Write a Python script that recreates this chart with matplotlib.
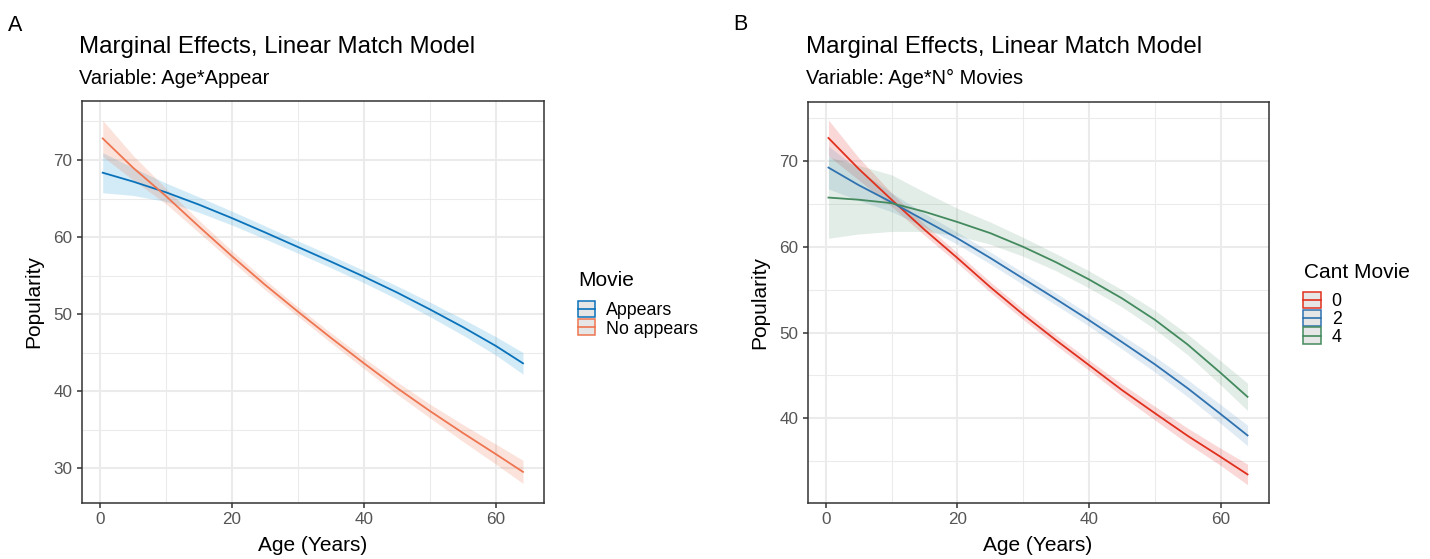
import matplotlib
matplotlib.use("Agg")
import matplotlib.pyplot as plt
from matplotlib.patches import Rectangle
from matplotlib.lines import Line2D
import numpy as np

plt.rcParams['font.family'] = ['Liberation Sans', 'DejaVu Sans']

W, H = 1430, 559

# ---------------- data ----------------
age = [0.4, 5, 10, 15, 20, 25, 30, 35, 40, 45, 50, 55, 60, 64.1]

# Panel A: Movie (Appears / No appears)
a_labels = ["Appears", "No appears"]
a_appears = [68.35, 67.2, 65.8, 64.2, 62.45, 60.6, 58.7, 56.8, 54.85, 52.8, 50.6, 48.3, 45.85, 43.6]
a_appears_ci = [2.6, 1.8, 1.2, 1.0, 0.9, 0.85, 0.8, 0.8, 0.8, 0.85, 0.95, 1.05, 1.2, 1.4]
a_noappears = [72.8, 69.0, 65.3, 61.35, 57.5, 53.8, 50.3, 46.9, 43.6, 40.4, 37.4, 34.55, 31.8, 29.5]
a_noappears_ci = [2.35, 1.6, 1.0, 0.8, 0.7, 0.65, 0.6, 0.65, 0.7, 0.8, 0.9, 1.1, 1.3, 1.5]

# Panel B: Cant Movie (0 / 2 / 4)
b_labels = ["0", "2", "4"]
b_m0 = [72.7, 69.1, 65.5, 62.0, 58.7, 55.3, 52.1, 49.1, 46.2, 43.3, 40.6, 37.95, 35.5, 33.45]
b_m0_ci = [2.1, 1.3, 0.8, 0.65, 0.6, 0.6, 0.6, 0.6, 0.6, 0.7, 0.8, 0.9, 1.0, 1.2]
b_m2 = [69.25, 67.2, 65.2, 63.1, 61.0, 58.7, 56.3, 53.9, 51.45, 48.9, 46.3, 43.5, 40.5, 38.0]
b_m2_ci = [2.5, 1.8, 1.1, 0.8, 0.7, 0.7, 0.7, 0.7, 0.7, 0.8, 0.9, 1.0, 1.1, 1.2]
b_m4 = [65.75, 65.5, 65.1, 64.1, 62.9, 61.6, 60.0, 58.2, 56.2, 54.0, 51.5, 48.6, 45.3, 42.5]
b_m4_ci = [4.75, 4.0, 3.3, 2.3, 1.6, 1.3, 1.1, 1.0, 1.0, 1.0, 1.1, 1.2, 1.4, 1.6]

x_ticks = [0, 20, 40, 60]
a_yticks = [30, 40, 50, 60, 70]
b_yticks = [40, 50, 60, 70]

title = "Marginal Effects, Linear Match Model"
a_sub = "Variable: Age*Appear"
b_sub = "Variable: Age*N° Movies"

# ---------------- styling ----------------
fig = plt.figure(figsize=(W / 100, H / 100), dpi=100)

def fx(x):
    return x / W

def fy(y):
    return 1 - y / H

BORDER = '#333333'
GRID = '#EBEBEB'
TICKLAB = '#555555'


def make_axes(left, right, top, bottom):
    return fig.add_axes([fx(left), fy(bottom), fx(right) - fx(left), (bottom - top) / H])


def style(ax, ylim, yticks):
    xr = max(age) - min(age)
    ax.set_xticks(x_ticks)
    ax.set_yticks(yticks)
    ax.set_xticks([10, 30, 50], minor=True)
    ax.set_yticks([t + 5 for t in [yticks[0] - 10] + list(yticks)], minor=True)
    ax.set_xlim(min(age) - 0.05 * xr, max(age) + 0.05 * xr)
    ax.set_ylim(*ylim)
    ax.grid(True, which='major', color=GRID, lw=1.5, zorder=0)
    ax.grid(True, which='minor', color=GRID, lw=0.75, zorder=0)
    ax.set_axisbelow(True)
    for s in ax.spines.values():
        s.set_color(BORDER)
        s.set_linewidth(1.1)
    ax.tick_params(which='major', length=3.6, width=1.1, color=BORDER,
                   labelcolor=TICKLAB, labelsize=12.3, pad=3)
    ax.tick_params(which='minor', length=0)
    ax.set_xlabel("Age (Years)", fontsize=15, labelpad=6.5, color='black')
    ax.set_ylabel("Popularity", fontsize=15, labelpad=7, color='black')


def draw_series(ax, ys, cis, line_cols, fill_cols, alphas):
    for y, c, fc, al in zip(ys, cis, fill_cols, alphas):
        y = np.asarray(y)
        c = np.asarray(c)
        ax.fill_between(age, y - c, y + c, color=fc, alpha=al, lw=0, zorder=2)
    for y, lc in zip(ys, line_cols):
        ax.plot(age, y, color=lc, lw=1.3, zorder=3)


def draw_legend(title_txt, title_x, title_base, labels, colors, key_x, key_tops, key_h, label_x):
    fig.text(fx(title_x), fy(title_base), title_txt, fontsize=15, va='baseline', ha='left')
    kw = 17.3
    for lab, col, top in zip(labels, colors, key_tops):
        r = Rectangle((fx(key_x), fy(top + key_h)), kw / W, key_h / H,
                      transform=fig.transFigure, facecolor='#E6E6E6',
                      edgecolor=col, lw=1.1, alpha=1.0)
        fig.add_artist(r)
        cy = top + key_h / 2
        fig.add_artist(Line2D([fx(key_x), fx(key_x + kw)], [fy(cy), fy(cy)],
                              transform=fig.transFigure, color=col, lw=1.2))
        fig.text(fx(label_x), fy(cy), lab, fontsize=12.8, va='center_baseline', ha='left')


# ---------------- Panel A ----------------
axA = make_axes(81.7, 544, 100.7, 502.7)
a_cols = ['#0A72BA', '#EE7550']
a_fill = ['#4FB0E0', '#EE7550']
draw_series(axA, [a_appears, a_noappears], [a_appears_ci, a_noappears_ci],
            a_cols, a_fill, [0.25, 0.2])
style(axA, (25.5, 77.7), a_yticks)

fig.text(fx(8), fy(30.7), "A", fontsize=15.5, va='baseline', ha='left')
fig.text(fx(79), fy(53), title, fontsize=17.3, va='baseline', ha='left', color='black')
fig.text(fx(79), fy(84.5), a_sub, fontsize=14.4, va='baseline', ha='left', color='black')

draw_legend("Movie", 578, 286.5, a_labels, a_cols, 577.7, [300.5, 319.3], 16.0, 606)

# ---------------- Panel B ----------------
axB = make_axes(807.5, 1268.5, 102, 502.7)
b_cols = ['#E0301E', '#2F72B0', '#438A5E']
b_fill = ['#E41A1C', '#377EB8', '#468C5F']
draw_series(axB, [b_m0, b_m2, b_m4], [b_m0_ci, b_m2_ci, b_m4_ci],
            b_cols, b_fill, [0.17, 0.15, 0.15])
style(axB, (30.15, 76.9), b_yticks)

fig.text(fx(733), fy(29.5), "B", fontsize=15.5, va='baseline', ha='left')
fig.text(fx(806), fy(52.5), title, fontsize=17.3, va='baseline', ha='left', color='black')
fig.text(fx(806), fy(84), b_sub, fontsize=14.4, va='baseline', ha='left', color='black')

draw_legend("Cant Movie", 1303.5, 278.3, b_labels, b_cols, 1303.3,
            [291.7, 309.5, 327.3], 16.5, 1331.7)

fig.savefig("out.png", dpi=100)
